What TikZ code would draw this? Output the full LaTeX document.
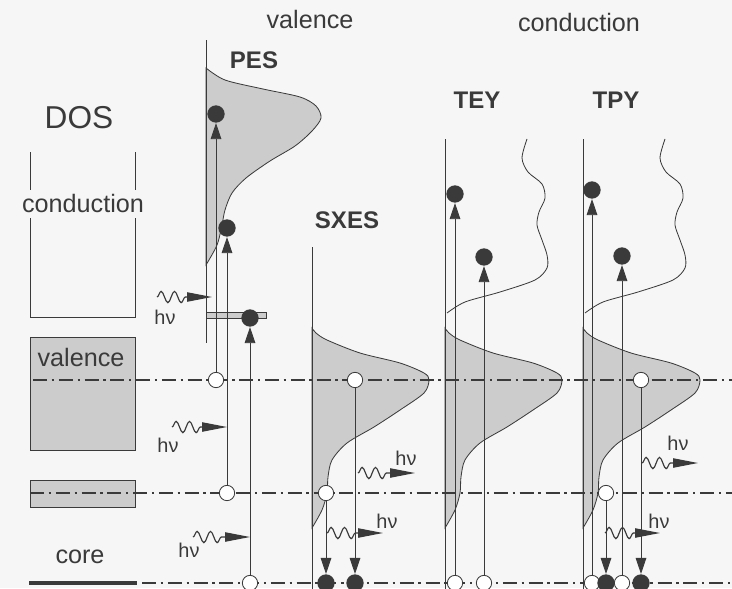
\documentclass[tikz,border=0pt]{standalone}
\usepackage{fontspec}
\setmainfont{Liberation Sans}
\usetikzlibrary{arrows.meta, decorations.pathmorphing}
\definecolor{tinta}{RGB}{58,58,58}
\definecolor{arsir}{RGB}{204,204,204}
\definecolor{kertas}{RGB}{246,246,246}

\newcommand{\dosvalensi}[1]{%
  \filldraw[fill=arsir, shift={(#1,0)}] plot[smooth] coordinates {(0,328) (4,333) (15,340) (48,353) (88,363) (112,373) (117,380) (112,393) (88,410) (62,427) (35,443) (20,460) (16,477) (15,493) (10,510) (0,528)} -- cycle;}
\newcommand{\doskonduksi}[1]{%
  \draw[shift={(#1,0)}] plot[smooth] coordinates {(82,139) (77,158) (83,172) (97,184) (100,198) (94,212) (92,225) (97,240) (102,255) (102,268) (90,280) (55,292) (20,302) (2,313)};}

\begin{document}
\begin{tikzpicture}[x=0.03cm, y=-0.03cm, color=tinta, line width=0.7pt,
        font=\fontsize{21.5}{25}\selectfont,
        judul/.style={font=\bfseries\fontsize{20.5}{24}\selectfont},
        hv/.style={font=\fontsize{17}{20}\selectfont},
        lubang/.style={circle, draw, fill=white, inner sep=0pt, minimum size=0.46cm},
        elektron/.style={circle, fill=tinta, inner sep=0pt, minimum size=0.52cm},
        transisi/.style={-{Triangle[length=0.48cm, width=0.32cm]}},
        foton/.style={-{Triangle[length=0.75cm, width=0.28cm]}, line width=1pt, decorate,
                      decoration={snake, amplitude=0.17cm, segment length=0.4cm, post length=0.76cm}},
        tingkat/.style={line width=1.1pt, dash pattern=on 12pt off 4pt on 2pt off 4pt}
    ]
    \fill[kertas] (0,0) rectangle (732,588);
    \useasboundingbox (0,0) rectangle (732,588);

    \node[font=\fontsize{27}{30}\selectfont] (dos) at (79,118) {DOS};
    \draw (30,152) -- (30,190) (135,152) -- (135,190);
    \draw (30,218) -- (30,317) -- (135,317) -- (135,218);
    \node (konduksi) at (83,203) {conduction};
    \filldraw[fill=arsir] (30,337) rectangle (135,450);
    \node (valensi)  at (81,357) {valence};
    \filldraw[fill=arsir] (30,480) rectangle (135,507);
    \node (inti)     at (80,557) {core};
    \draw[line width=3.5pt] (29,583) -- (137,583);

    \node (valatas) at (310,19) {valence};
    \node (konatas) at (579,22) {conduction};

    \node[judul] (pes)  at (254,60)  {PES};
    \node[judul] (sxes) at (347,220) {SXES};
    \node[judul] (tey)  at (477,100) {TEY};
    \node[judul] (tpy)  at (616,100) {TPY};

    \filldraw[fill=arsir] plot[smooth] coordinates {(206,68) (225,80) (263,89) (300,97) (316,106) (321,118) (312,131) (295,146) (270,161) (246,178) (232,193) (225,210) (222,225) (217,245) (206,265)} -- cycle;
    \draw (206,40) -- (206,343);
    \filldraw[fill=arsir] (206,312) rectangle (266,318);

    \dosvalensi{312}
    \draw (312,247) -- (312,590);
    \doskonduksi{445}
    \dosvalensi{445}
    \draw (445,139) -- (445,590);
    \doskonduksi{583}
    \dosvalensi{583}
    \draw (583,139) -- (583,590);

    \draw[tingkat] (33,380) -- (732,380);
    \draw[tingkat] (30,493) -- (732,493);
    \draw[tingkat] (142,583) -- (732,583);

    \node[lubang]   (p1) at (216,380) {};
    \node[elektron] (q1) at (216,114) {};
    \node[lubang]   (p2) at (227,493) {};
    \node[elektron] (q2) at (227,228) {};
    \node[lubang]   (p3) at (250,583) {};
    \node[elektron] (q3) at (250,318) {};

    \node[lubang]   (s1) at (355,380) {};
    \node[elektron] (t1) at (355,583) {};
    \node[lubang]   (s2) at (326,493) {};
    \node[elektron] (t2) at (326,583) {};

    \node[lubang]   (a1) at (455,583) {};
    \node[elektron] (b1) at (455,194) {};
    \node[lubang]   (a2) at (484,583) {};
    \node[elektron] (b2) at (484,257) {};

    \node[lubang]   (c1) at (592,583) {};
    \node[lubang]   (c2) at (622,583) {};
    \node[lubang]   (c3) at (606,493) {};
    \node[lubang]   (c4) at (641,380) {};
    \node[elektron] (d1) at (592,190) {};
    \node[elektron] (d2) at (622,256) {};
    \node[elektron] (d3) at (606,583) {};
    \node[elektron] (d4) at (641,583) {};

    \draw[transisi] (p1) -- (q1);
    \draw[transisi] (p2) -- (q2);
    \draw[transisi] (p3) -- (q3);
    \draw[transisi] (s1) -- (t1);
    \draw[transisi] (s2) -- (t2);
    \draw[transisi] (a1) -- (b1);
    \draw[transisi] (a2) -- (b2);
    \draw[transisi] (c1) -- (d1);
    \draw[transisi] (c2) -- (d2);
    \draw[transisi] (c3) -- (d3);
    \draw[transisi] (c4) -- (d4);

    \coordinate (f1a) at (157,297); \coordinate (f1b) at (212,297);
    \coordinate (f2a) at (172,427); \coordinate (f2b) at (227,427);
    \coordinate (f3a) at (193,537); \coordinate (f3b) at (250,537);
    \coordinate (f4a) at (358,473); \coordinate (f4b) at (415,473);
    \coordinate (f5a) at (327,533); \coordinate (f5b) at (383,533);
    \coordinate (f6a) at (642,463); \coordinate (f6b) at (698,463);
    \coordinate (f7a) at (605,533); \coordinate (f7b) at (660,533);
    \draw[foton] (f1a) -- (f1b);
    \draw[foton] (f2a) -- (f2b);
    \draw[foton] (f3a) -- (f3b);
    \draw[foton] (f4a) -- (f4b);
    \draw[foton] (f5a) -- (f5b);
    \draw[foton] (f6a) -- (f6b);
    \draw[foton] (f7a) -- (f7b);

    \node[hv] (hv1) at (165,317) {hν};
    \node[hv] (hv2) at (168,445) {hν};
    \node[hv] (hv3) at (189,550) {hν};
    \node[hv] (hv4) at (406,458) {hν};
    \node[hv] (hv5) at (387,521) {hν};
    \node[hv] (hv6) at (678,443) {hν};
    \node[hv] (hv7) at (659,521) {hν};
\end{tikzpicture}
\end{document}
